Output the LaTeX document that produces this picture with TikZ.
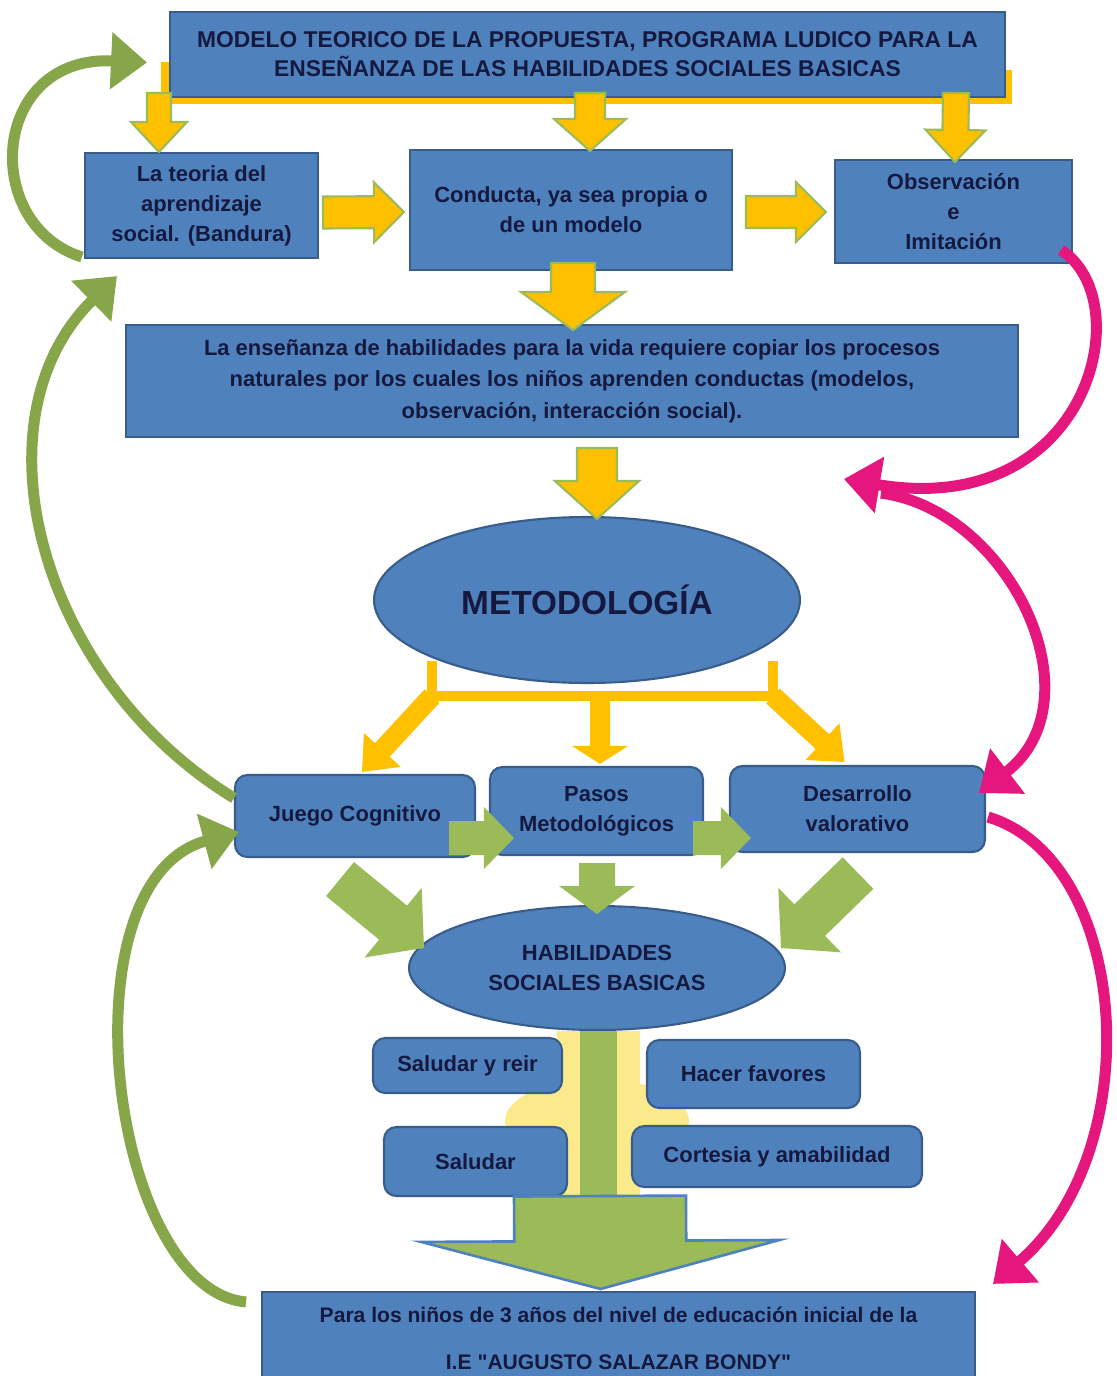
\documentclass[tikz,border=0pt]{standalone}
\usepackage{fontspec}
\setmainfont{Liberation Sans}[Ligatures=TeXOff]
\usetikzlibrary{calc,arrows.meta,shapes.geometric}

\definecolor{cajaazul}{HTML}{4F81BD}
\definecolor{bordeazul}{HTML}{385D8A}
\definecolor{tinta}{HTML}{15193F}
\definecolor{ambar}{HTML}{FFC000}
\definecolor{lima}{HTML}{9BBB59}
\definecolor{oliva}{HTML}{77933C}
\definecolor{rosa}{HTML}{E5177F}
\definecolor{brillo}{HTML}{FBEA8C}

% block arrow: [style]{tail}{tip}{shaft half width}{head half width}{head length}
\newcommand{\flecha}[6][]{%
  \coordinate (hb) at ($(#3)!#6!(#2)$);
  \path[#1] ($(#2)!#4!90:(#3)$) -- ($(hb)!#4!90:(#3)$) -- ($(hb)!#5!90:(#3)$)
    -- (#3) -- ($(hb)!#5!-90:(#3)$) -- ($(hb)!#4!-90:(#3)$) -- ($(#2)!#4!-90:(#3)$) -- cycle;
}

\tikzset{
  caja/.style={rectangle, fill=cajaazul, draw=bordeazul, line width=1.2pt,
    align=center, text=tinta, inner sep=2pt,
    font=\bfseries\fontsize{12.5}{17}\selectfont},
  cajar/.style={caja, rounded corners=7pt},
  ovalo/.style={ellipse, fill=cajaazul, draw=bordeazul, line width=1.2pt,
    align=center, text=tinta, inner sep=0pt},
  yblock/.style={fill=ambar, draw=lima, line width=1.2pt},
  yplain/.style={fill=ambar, draw=none},
  gblock/.style={fill=lima, draw=none},
  garc/.style={draw=oliva!55!lima, line width=0.22cm, -{Triangle[length=0.72cm,width=1.1cm]}},
  marc/.style={draw=rosa, line width=0.22cm, -{Triangle[length=0.72cm,width=1.1cm]}},
}

\begin{document}
\begin{tikzpicture}[x=0.02cm, y=-0.02cm]
  \fill[white] (0,0) rectangle (1116,1376);
  \useasboundingbox (0,0) rectangle (1116,1376);

  % yellow bracket behind the title
  \draw[ambar, line width=0.16cm] (165,62) -- (165,100) -- (1008,100) -- (1008,70);

  % boxes
  \node[caja, minimum width=16.7cm, minimum height=1.7cm,
    font=\bfseries\fontsize{13}{16.5}\selectfont] (modelo) at (587.5,54.5)
    {MODELO TEORICO DE LA PROPUESTA, PROGRAMA LUDICO PARA LA\\ENSEÑANZA DE LAS HABILIDADES SOCIALES BASICAS};
  \node[caja, minimum width=4.66cm, minimum height=2.1cm] (bandura) at (201.5,205.5)
    {La teoria del\\aprendizaje\\social. (Bandura)};
  \node[caja, minimum width=6.44cm, minimum height=2.4cm] (conducta) at (571,210)
    {Conducta, ya sea propia o\\de un modelo};
  \node[caja, minimum width=4.74cm, minimum height=2.06cm] (observ) at (953.5,211.5)
    {Observación\\e\\Imitación};
  \node[caja, minimum width=17.84cm, minimum height=2.24cm,
    font=\bfseries\fontsize{12.5}{18}\selectfont] (ensenanza) at (572,381)
    {La enseñanza de habilidades para la vida requiere copiar los procesos\\naturales por los cuales los niños aprenden conductas (modelos,\\observación, interacción social).};
  \node[ovalo, minimum width=8.52cm, minimum height=3.32cm,
    font=\bfseries\fontsize{19}{21}\selectfont] (metod) at (587,600) {METODOLOGÍA};

  \node[cajar, minimum width=4.8cm, minimum height=1.64cm] (juego) at (355,816) {Juego Cognitivo};
  \node[cajar, minimum width=4.26cm, minimum height=1.76cm] (pasos) at (596.5,811)
    {Pasos\\Metodológicos};
  \node[cajar, minimum width=5.1cm, minimum height=1.72cm] (desarr) at (857.5,809)
    {Desarrollo\\valorativo};
  \node[ovalo, minimum width=7.52cm, minimum height=2.48cm,
    font=\bfseries\fontsize{12.5}{17}\selectfont] (habil) at (597,968)
    {HABILIDADES\\SOCIALES BASICAS};

  % green column under the skills, with its yellow glow
  \coordinate (a16) at ($(habil.south)+(3,165)$);
  \fill[brillo] ($(habil.south)+(-40,0)$) rectangle ($(a16)+(40,0)$);
  \fill[brillo] ($(habil.south)+(0,90)$) ellipse [x radius=92, y radius=42];
  \fill[lima] ($(habil.south)+(-17,0)$) rectangle ($(a16)+(17,0)$);

  \node[cajar, minimum width=3.78cm, minimum height=1.1cm] (reir) at (467.5,1065.5) {Saludar y reir};
  \node[cajar, minimum width=4.26cm, minimum height=1.36cm] (favores) at (753.5,1074) {Hacer favores};
  \node[cajar, minimum width=3.66cm, minimum height=1.38cm] (saludar) at (475.5,1161.5) {Saludar};
  \node[cajar, minimum width=5.8cm, minimum height=1.22cm] (cortesia) at (777,1156.5) {Cortesia y amabilidad};
  \node[caja, minimum width=14.26cm, minimum height=1.86cm,
    font=\bfseries\fontsize{12}{26.5}\selectfont] (final) at (618.5,1338.5)
    {Para los niños de 3 años del nivel de educación inicial de la\\I.E "AUGUSTO SALAZAR BONDY"};

  % yellow block arrows
  \coordinate (a1) at ($(modelo.south west)+(-10,-5)$);
  \coordinate (b1) at ($(bandura.north west)+(75,0)$);
  \flecha[yblock]{a1}{b1}{0.24cm}{0.56cm}{0.6cm}
  \coordinate (a2) at ($(modelo.south)+(2.5,-5)$);
  \coordinate (b2) at ($(conducta.north)+(19,2)$);
  \flecha[yblock]{a2}{b2}{0.3cm}{0.72cm}{0.64cm}
  \coordinate (a3) at ($(modelo.south east)+(-50,-5)$);
  \coordinate (b3) at ($(observ.north)+(1.5,3)$);
  \flecha[yblock]{a3}{b3}{0.26cm}{0.6cm}{0.64cm}
  \coordinate (a4) at ($(bandura.east)+(4,7)$);
  \coordinate (b4) at ($(conducta.west)+(-5,2)$);
  \flecha[yblock]{a4}{b4}{0.32cm}{0.6cm}{0.6cm}
  \coordinate (a5) at ($(conducta.east)+(13,2)$);
  \coordinate (b5) at ($(observ.west)+(-8,0.5)$);
  \flecha[yblock]{a5}{b5}{0.32cm}{0.6cm}{0.6cm}
  \coordinate (a6) at ($(conducta.south)+(2,-8)$);
  \coordinate (b6) at ($(ensenanza.north)+(1,6)$);
  \flecha[yblock]{a6}{b6}{0.44cm}{1.04cm}{0.76cm}
  \coordinate (a7) at ($(ensenanza.south)+(25,10)$);
  \coordinate (b7) at ($(metod.north)+(10,3)$);
  \flecha[yblock]{a7}{b7}{0.4cm}{0.84cm}{0.76cm}

  % fork under METODOLOGIA
  \coordinate (bl) at ($(metod.south)+(-155,12)$);
  \coordinate (bc) at ($(metod.south)+(13,12)$);
  \coordinate (br) at ($(metod.south)+(186,12)$);
  \draw[ambar, line width=0.2cm] ($(bl)+(0,-35)$) -- (bl) -- (br) -- ($(br)+(0,-35)$);
  \coordinate (b8) at ($(juego.north)+(7,-2)$);
  \coordinate (b9) at ($(pasos.north)+(3.5,-2)$);
  \coordinate (b10) at ($(desarr.north)+(-13,-3)$);
  \flecha[yplain]{bl}{b8}{0.2cm}{0.5cm}{0.6cm}
  \flecha[yplain]{bc}{b9}{0.2cm}{0.56cm}{0.36cm}
  \flecha[yplain]{br}{b10}{0.2cm}{0.5cm}{0.6cm}

  % green block arrows
  \coordinate (a11) at ($(juego.east)+(-27,22)$);
  \coordinate (b11) at ($(pasos.west)+(25,27)$);
  \flecha[gblock]{a11}{b11}{0.34cm}{0.62cm}{0.6cm}
  \coordinate (a12) at ($(pasos.east)+(-11,27)$);
  \coordinate (b12) at ($(desarr.west)+(22,29)$);
  \flecha[gblock]{a12}{b12}{0.34cm}{0.62cm}{0.6cm}
  \coordinate (a13) at ($(juego.south)+(-15,21)$);
  \coordinate (b13) at ($(habil.west)+(16,-20)$);
  \flecha[gblock]{a13}{b13}{0.44cm}{0.9cm}{0.8cm}
  \coordinate (a14) at ($(pasos.south)+(0.5,7)$);
  \coordinate (b14) at ($(habil.north)+(0,9)$);
  \flecha[gblock]{a14}{b14}{0.36cm}{0.76cm}{0.56cm}
  \coordinate (a15) at ($(desarr.south)+(0.5,20)$);
  \coordinate (b15) at ($(habil.east)+(-5,-20)$);
  \flecha[gblock]{a15}{b15}{0.44cm}{0.9cm}{0.8cm}

  % big arrow into the last box
  \coordinate (b16) at ($(final.north)+(-18,-2)$);
  \flecha[fill=lima, draw=cajaazul, line width=1.5pt]{a16}{b16}{1.72cm}{3.58cm}{0.96cm}

  % feedback arcs
  \draw[garc] ($(bandura.south west)+(-2,-2)$) .. controls (-20,225) and (-10,55) .. ($(modelo.west)+(-22,8)$);
  \draw[garc] ($(juego.west)+(0,-18)$) .. controls (40,680) and (-30,420) .. ($(bandura.south west)+(33,17)$);
  \draw[garc] ($(final.north west)+(-15,11)$) .. controls (110,1290) and (60,880) .. ($(juego.west)+(5,16)$);
  \coordinate (rizo) at ($(ensenanza.south east)+(-175,41)$);
  \draw[marc] ($(observ.south east)+(-12,-14)$) .. controls (1140,300) and (1090,520) .. (rizo);
  \draw[marc] ($(rizo)+(37,14)$) .. controls (1010,510) and (1100,700) .. ($(desarr.east)+(-7,-16)$);
  \draw[marc] ($(desarr.east)+(2,8)$) .. controls (1130,860) and (1150,1150) .. ($(final.north east)+(17,-7)$);
\end{tikzpicture}
\end{document}
